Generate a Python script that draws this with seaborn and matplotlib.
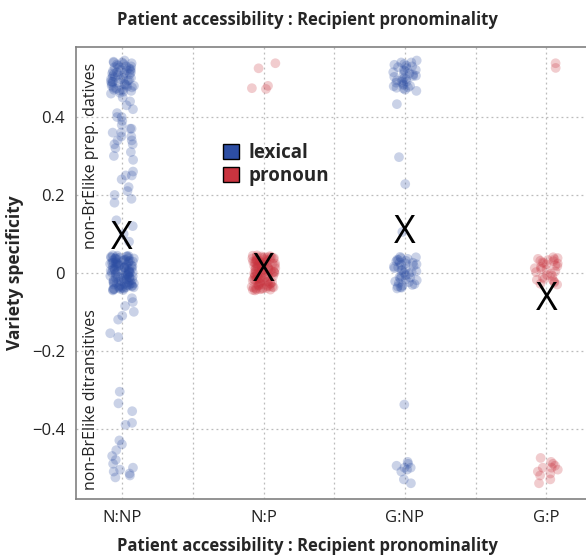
#! /usr/bin/env python3

import numpy as np
import pandas as pd
import seaborn as sns
import matplotlib.pyplot as plt
from matplotlib.patches import Patch
from matplotlib.ticker import FixedLocator

sns.set_style("white")
plt.rcParams['font.family'] = ['Open Sans', 'DejaVu Sans']

categories = ["N:NP", "N:P", "G:NP", "G:P"]
groups = ["lexical", "pronoun", "lexical", "pronoun"]
colors = {"lexical": "#2d4ea3", "pronoun": "#c9343f"}

# N:NP (lexical)
nnp_vals = [
    # top cluster
    0.545, 0.54, 0.538, 0.535, 0.532, 0.53, 0.528, 0.525, 0.523, 0.52, 0.518, 0.515,
    0.513, 0.51, 0.508, 0.505, 0.503, 0.50, 0.498, 0.495, 0.493, 0.49, 0.488, 0.485,
    0.483, 0.48, 0.478, 0.475, 0.473, 0.47, 0.468, 0.465, 0.462, 0.46, 0.542, 0.527,
    0.512, 0.497, 0.482, 0.467, 0.536, 0.521, 0.506, 0.491, 0.476, 0.53, 0.50, 0.47,
    0.515, 0.485, 0.54, 0.52, 0.49, 0.48, 0.51,
    # spread
    0.45, 0.44, 0.43, 0.42, 0.41, 0.40, 0.40, 0.39, 0.38, 0.37, 0.37, 0.36, 0.36,
    0.35, 0.35, 0.34, 0.34, 0.33, 0.33, 0.32, 0.31, 0.30, 0.29, 0.26, 0.25, 0.25,
    0.24, 0.22, 0.21, 0.20, 0.19, 0.18, 0.135, 0.12, 0.10, 0.08,
    # zero block
    0.044, -0.041, 0.012, -0.008, 0.031, -0.027, 0.003, 0.038, -0.035, 0.019, -0.016,
    0.026, -0.044, 0.007, -0.002, 0.041, -0.021, 0.015, -0.031, 0.034, -0.011, 0.022,
    -0.038, 0.001, 0.029, -0.025, 0.009, -0.005, 0.036, -0.042, 0.017, -0.019, 0.043,
    -0.013, 0.024, -0.033, 0.005, 0.032, -0.029, 0.011, -0.001, 0.039, -0.037, 0.021,
    -0.023, 0.014, -0.009, 0.027, -0.045, 0.002, 0.035, -0.017, 0.008, -0.039, 0.018,
    -0.006, 0.042, -0.026, 0.013, -0.032, 0.025, -0.014, 0.004, 0.037, -0.043, 0.020,
    -0.010, 0.030, -0.024, 0.006, -0.036, 0.016, -0.003, 0.040, -0.028, 0.010, -0.018,
    0.033, -0.040, 0.023, -0.007, 0.028, -0.034, 0.000, 0.045, -0.022, 0.019, -0.012,
    0.039, -0.030, 0.037, -0.020, 0.008, -0.037, 0.026, -0.004, 0.015, -0.027, 0.043,
    -0.015, 0.002, -0.041, 0.031, -0.011, 0.021, -0.033,
    # below
    -0.065, -0.075, -0.085, -0.10, -0.11, -0.12, -0.155, -0.165, -0.305, -0.335,
    -0.355, -0.385, -0.39, -0.43, -0.44, -0.455, -0.47, -0.48, -0.49, -0.50, -0.505,
    -0.51, -0.515, -0.52, -0.525,
]

# N:P (pronoun)
np_vals = [
    0.538, 0.525, 0.48, 0.474, 0.472,
    -0.039, 0.021, -0.004, 0.043, -0.028, 0.009, 0.035, -0.017, 0.002, -0.044, 0.027,
    -0.011, 0.016, -0.033, 0.040, -0.022, 0.005, 0.031, -0.007, -0.041, 0.013, 0.024,
    -0.030, 0.038, -0.015, 0.000, 0.019, -0.036, 0.045, -0.002, 0.029, -0.024, 0.011,
    -0.043, 0.034, -0.009, 0.006, -0.020, 0.041, -0.034, 0.017, 0.025, -0.013, -0.038,
    0.003, 0.037, -0.026, 0.014, -0.006, 0.030, -0.045, 0.022, -0.018, 0.008, 0.042,
    -0.031, 0.001, -0.010, 0.033, -0.040, 0.018, 0.026, -0.023, 0.004, -0.035, 0.039,
    -0.014, 0.012, -0.001, 0.028, -0.042, 0.020, -0.027, 0.036, 0.007, -0.008, -0.032,
    0.044, 0.015, -0.019, 0.023, -0.037, 0.010, -0.003, 0.032, -0.025, 0.040, -0.016,
    0.003, -0.043, 0.027, -0.012, 0.019, 0.035, -0.029, -0.021, 0.011, 0.041, -0.036,
    0.006, -0.009, 0.024, -0.039, 0.031, 0.000,
]

# G:NP (lexical)
gnp_vals = [
    0.545, 0.54, 0.536, 0.532, 0.528, 0.525, 0.521, 0.518, 0.515, 0.512, 0.509, 0.506,
    0.503, 0.50, 0.497, 0.494, 0.491, 0.488, 0.485, 0.482, 0.479, 0.476, 0.473, 0.47,
    0.467, 0.534, 0.52, 0.505, 0.49, 0.475, 0.53, 0.51, 0.495, 0.48, 0.54,
    0.433, 0.297, 0.228, 0.105,
    0.038, -0.031, 0.012, -0.006, 0.027, -0.040, 0.004, 0.033, -0.019, 0.020, -0.012,
    0.041, -0.026, 0.008, -0.035, 0.016, 0.000, 0.030, -0.022, 0.024, -0.009, 0.036,
    -0.038, 0.010, -0.015, 0.002, 0.040, -0.029, 0.018, -0.003, 0.026, -0.033, 0.014,
    -0.024, 0.034, -0.011, 0.006, -0.037, 0.022, -0.017, 0.031,
    -0.338, -0.485, -0.49, -0.495, -0.50, -0.50, -0.505, -0.51, -0.53, -0.54,
]

# G:P (pronoun)
gp_vals = [
    0.538, 0.526,
    0.040, -0.025, 0.012, 0.031, -0.006, 0.022, -0.018, 0.036, 0.004, -0.030, 0.027,
    0.015, -0.012, 0.038, 0.008, -0.022, 0.033, 0.019, -0.002, 0.025, -0.015, 0.010,
    0.030, -0.028, 0.002, 0.035, -0.008, 0.017, 0.024, -0.019,
    -0.475, -0.485, -0.49, -0.495, -0.50, -0.50, -0.505, -0.51, -0.515, -0.52, -0.53,
    -0.54,
]

# mean markers
mean_vals = [0.087, 0.005, 0.103, -0.070]

ytick_vals = [-0.4, -0.2, 0, 0.2, 0.4]
ytick_labels = ["\u22120.4", "\u22120.2", "0", "0.2", "0.4"]

axis_title = "Patient accessibility : Recipient pronominality"

rows = []
for cat, grp, vals in zip(categories, groups, [nnp_vals, np_vals, gnp_vals, gp_vals]):
    for v in vals:
        rows.append({"cat": cat, "val": v, "type": grp})
df = pd.DataFrame(rows)

fig = plt.figure(figsize=(5.86, 5.58), dpi=100)
ax = fig.add_axes([0.13, 0.106, 0.87, 0.81])

sns.stripplot(data=df, x="cat", y="val", hue="type", order=categories,
              hue_order=["lexical", "pronoun"], palette=colors, jitter=0.085,
              size=7, alpha=0.25, linewidth=0, legend=False, ax=ax)

for i, m in enumerate(mean_vals):
    ax.text(i, m, "X", fontsize=27, ha="center", va="center", color="black")

ax.set_xlim(-0.325, 3.28)
ax.set_ylim(-0.58, 0.58)
ax.set_yticks(ytick_vals)
ax.set_yticklabels(ytick_labels)
ax.xaxis.set_minor_locator(FixedLocator([0.5, 1.5, 2.5]))
ax.grid(True, which="both", axis="x", linestyle=(0, (1.5, 2.5)), color="#bbbbbb", linewidth=0.9)
ax.grid(True, which="major", axis="y", linestyle=(0, (1.5, 2.5)), color="#bbbbbb", linewidth=0.9)
ax.set_axisbelow(True)
ax.tick_params(which="both", length=0, labelsize=12, colors="#222222", pad=8)

for side in ["left", "bottom", "top"]:
    ax.spines[side].set_color("#808080")
    ax.spines[side].set_linewidth(1.2)
ax.spines["right"].set_visible(False)

ax.set_xlabel(axis_title, fontsize=12, fontweight="bold")
ax.xaxis.set_label_coords(0.453, -0.085)
ax.set_ylabel("Variety specificity", fontsize=12.5, fontweight="bold", labelpad=6)
ax.set_title(axis_title, fontsize=12, fontweight="bold", pad=16, x=0.453)

ax.text(0.03, 0.30, "non-BrElike prep. datives", rotation=90, transform=ax.get_yaxis_transform(),
        ha="center", va="center", fontsize=11.5, color="#222222")
ax.text(0.03, -0.325, "non-BrElike ditransitives", rotation=90, transform=ax.get_yaxis_transform(),
        ha="center", va="center", fontsize=11.5, color="#222222")

handles = [Patch(facecolor=colors[k], edgecolor="black", linewidth=1.0, label=k)
           for k in ["lexical", "pronoun"]]
leg = ax.legend(handles=handles, loc="upper left", bbox_to_anchor=(0.255, 0.825),
                frameon=False, handlelength=0.85, handleheight=0.85, handletextpad=0.5,
                labelspacing=0.15, prop={"weight": "bold", "size": 13.5})

fig.savefig("out.png", dpi=100)
